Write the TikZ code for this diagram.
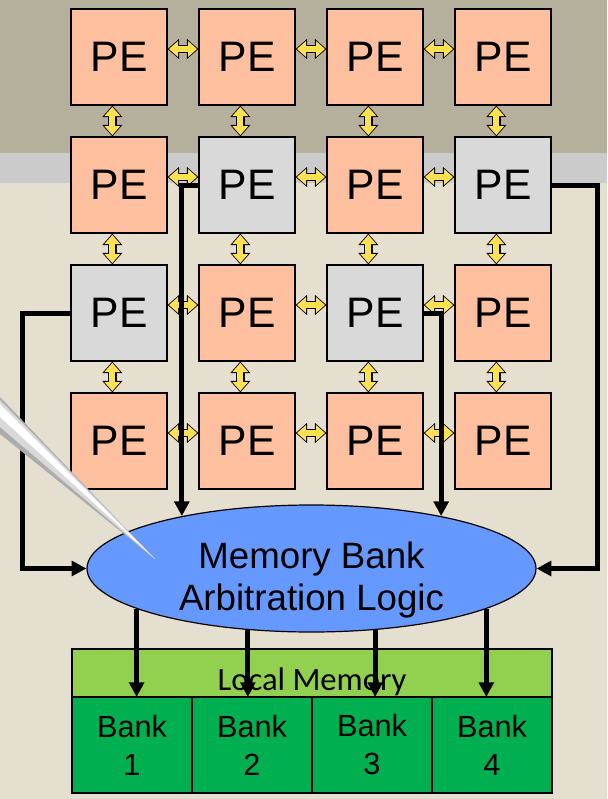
\documentclass[tikz,border=0pt]{standalone}
\usepackage{fontspec}
\setmainfont{Liberation Sans}
\newfontfamily\calfont{Carlito}
\usepackage{tikz}
\usetikzlibrary{arrows.meta, positioning, shapes.geometric}
\definecolor{bgtop}{RGB}{181,176,156}
\definecolor{bgband}{RGB}{203,203,203}
\definecolor{bgbeige}{RGB}{229,223,208}
\definecolor{pesalmon}{RGB}{255,192,160}
\definecolor{pegray}{RGB}{217,217,217}
\definecolor{linkyellow}{RGB}{255,224,80}
\definecolor{arbblue}{RGB}{102,153,255}
\definecolor{memlight}{RGB}{146,208,80}
\definecolor{membank}{RGB}{0,176,80}

\begin{document}
\begin{tikzpicture}[x=0.75pt, y=-0.75pt,
        pe/.style={draw=black, line width=0.9pt, fill=pesalmon,
                   minimum size=72pt, inner sep=0pt,
                   font=\fontsize{32}{38}\selectfont},
        idle/.style={pe, fill=pegray},
        link/.style={draw=linkyellow, line width=4.6pt,
                     {Triangle[length=6.8pt,width=11.5pt]}-{Triangle[length=6.8pt,width=11.5pt]},
                     shorten <=1pt, shorten >=1pt,
                     preaction={draw=black, line width=6.4pt, shorten <=0pt, shorten >=0pt,
                                {Triangle[length=8.6pt,width=14.5pt]}-{Triangle[length=8.6pt,width=14.5pt]}}},
        bus/.style={line width=3.75pt, -{Triangle[length=11pt,width=11pt]}},
        arb/.style={ellipse, draw=black, line width=0.9pt, fill=arbblue,
                    minimum width=336.75pt, minimum height=95.25pt, inner sep=0pt},
        arbtext/.style={align=center, yshift=-9pt,
                        font=\fontsize{27.5}{31.5}\selectfont},
        locmem/.style={draw=black, line width=1.2pt, fill=memlight,
                       minimum width=360pt, minimum height=36pt, inner sep=0pt, outer sep=0pt,
                       text height=25.5pt, text depth=0pt,
                       font=\calfont\fontsize{24.5}{29}\selectfont},
        bank/.style={draw=black, line width=1.2pt, fill=membank,
                     minimum width=90pt, minimum height=72pt, inner sep=0pt, outer sep=0pt,
                     align=center, font=\fontsize{23}{28.5}\selectfont},
      ]
        \useasboundingbox (0,0) rectangle (607,799);
        % slide background
        \fill[bgtop] (0,0) rectangle (607,153);
        \fill[bgband] (0,153) rectangle (607,183);
        \fill[bgbeige] (0,183) rectangle (607,799);

        % local memory
        \node[locmem] (locmem) at (312,673) {Local Memory};
        \node[bank, anchor=north west] (bank1) at (locmem.south west) {Bank\\1};
        \node[bank, right=0pt of bank1] (bank2) {Bank\\2};
        \node[bank, right=0pt of bank2] (bank3) {Bank\\3};
        \node[bank, right=0pt of bank3] (bank4) {Bank\\4};

        % PE array
        \foreach \kinds [count=\r] in {{pe,pe,pe,pe},{pe,idle,pe,idle},
                                        {idle,pe,idle,pe},{pe,pe,pe,pe}}
          \foreach \k [count=\c] in \kinds
            \node[\k] (pe-\r-\c) at ({119+128*(\c-1)},{57+128*(\r-1)}) {PE};

        \foreach \r in {1,...,4}
          \foreach \c/\n in {1/2,2/3,3/4}
            \draw[link] ([yshift=6pt]pe-\r-\c.east) -- ([yshift=6pt]pe-\r-\n.west);
        \foreach \r/\n in {1/2,2/3,3/4}
          \foreach \c in {1,...,4}
            \draw[link] ([xshift=-5pt]pe-\r-\c.south) -- ([xshift=-5pt]pe-\n-\c.north);

        % arbitration
        \node[arb, label={[arbtext]center:{Memory Bank\\Arbitration Logic}}]
          (arb) at (311.5,568.5) {};

        \draw[bus] (pe-2-2.west) -| (arb.158);
        \draw[bus] (pe-3-3.east) -| (arb.22);
        \draw[bus] (pe-2-4.east) -- ++(46,0) |- (arb.east);
        \draw[bus] (pe-3-1.west) -- ++(-48,0) |- (arb.west);
        \foreach \a/\b in {193/bank1, 224/bank2, 316/bank3, 347/bank4}
          \draw[bus] (arb.\a) -- (arb.\a |- \b.north);

        % pointer
        \fill[gray!65] (0,397) -- (155,559) -- (0,434) -- cycle;
        \fill[gray!30] (0,400) -- (155,559) -- (0,427) -- cycle;
        \fill[white] (0,404) -- (155,559) -- (0,417) -- cycle;
      \end{tikzpicture}
\end{document}
